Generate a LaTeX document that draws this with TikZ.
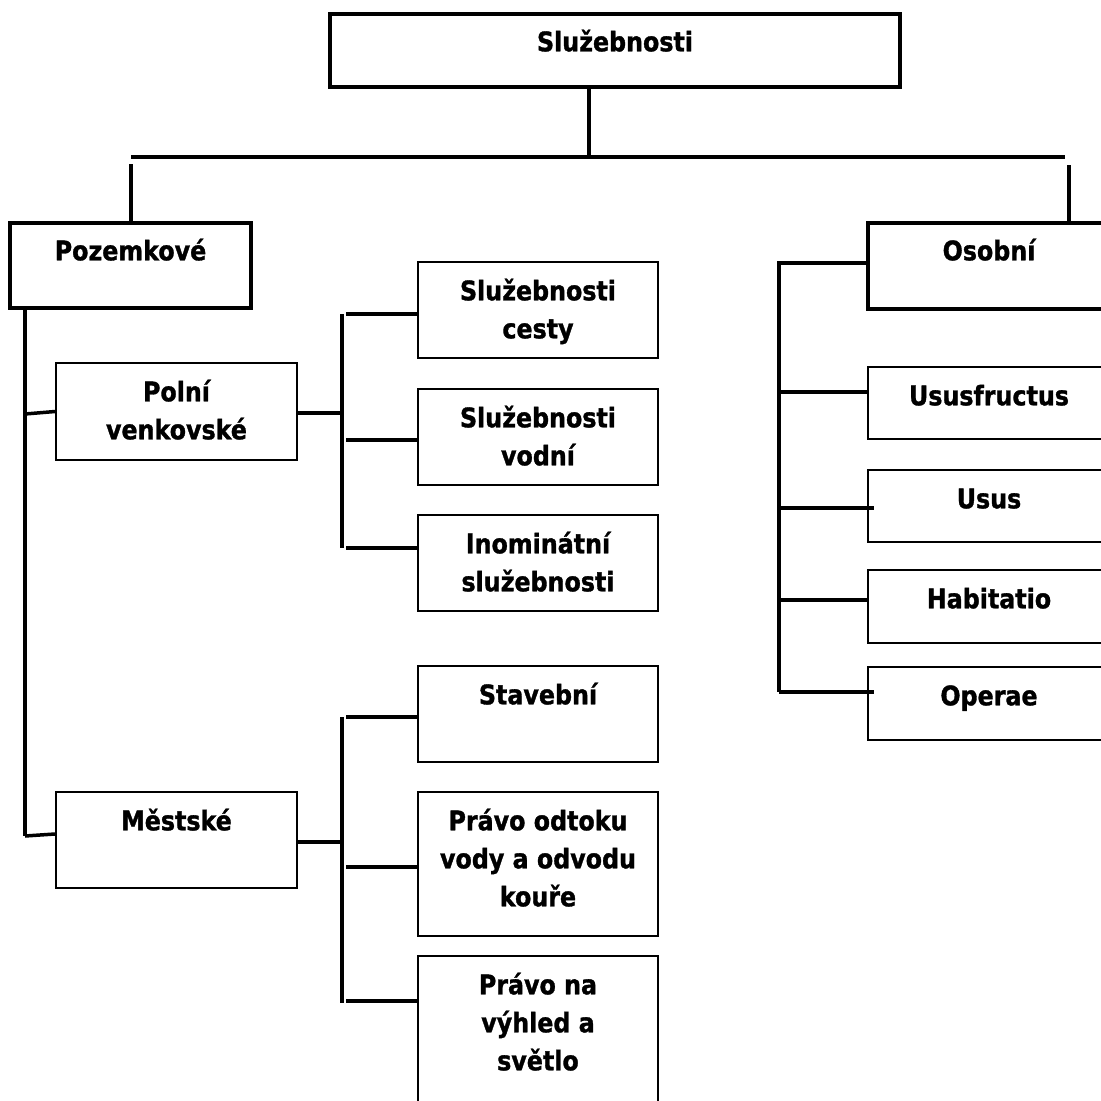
\documentclass[tikz,border=0pt]{standalone}
\usepackage{fontspec}
\setmainfont{DejaVu Sans}[BoldFeatures={FakeStretch=0.88,FakeBold=1.2}]
\usetikzlibrary{calc}
\begin{document}
\begin{tikzpicture}[x=1pt,y=-1pt,
  bigbox/.style={draw,line width=4pt,inner sep=0pt},
  smallbox/.style={draw,line width=2pt,inner sep=0pt},
  conn/.style={line width=3.5pt},
  lbl/.style={font=\bfseries\fontsize{27}{38}\selectfont,align=center,anchor=north,inner sep=0pt}]
\useasboundingbox[fill=white] (0,0) rectangle (1101,1101);

% boxes
\node[bigbox,minimum width=570pt,minimum height=73pt] (top) at (615,50.5) {};
\node[bigbox,minimum width=241pt,minimum height=85pt] (poz) at (130.5,265.5) {};
\node[bigbox,minimum width=242pt,minimum height=86pt] (oso) at (989,266) {};
\node[smallbox,minimum width=241pt,minimum height=97pt] (pol) at (176.5,411.5) {};
\node[smallbox,minimum width=241pt,minimum height=96pt] (mes) at (176.5,840) {};
\node[smallbox,minimum width=240pt,minimum height=96pt] (ces) at (538,310) {};
\node[smallbox,minimum width=240pt,minimum height=96pt] (vod) at (538,437) {};
\node[smallbox,minimum width=240pt,minimum height=96pt] (ino) at (538,563) {};
\node[smallbox,minimum width=240pt,minimum height=96pt] (sta) at (538,714) {};
\node[smallbox,minimum width=240pt,minimum height=144pt] (odt) at (538,864) {};
\node[smallbox,minimum width=240pt,minimum height=154pt] (vyh) at (538,1033) {};
\node[smallbox,minimum width=242pt,minimum height=72pt] (usf) at (989,403) {};
\node[smallbox,minimum width=242pt,minimum height=72pt] (usu) at (989,506) {};
\node[smallbox,minimum width=242pt,minimum height=73pt] (hab) at (989,606.5) {};
\node[smallbox,minimum width=242pt,minimum height=73pt] (ope) at (989,703.5) {};

% labels
\tikzset{tshift/.style={yshift=-12.5pt}}
\node[lbl] (topT) at ([tshift]top.north) {\strut Služebnosti};
\node[lbl] (pozT) at ([tshift]poz.north) {\strut Pozemkové};
\node[lbl] (osoT) at ([tshift]oso.north) {\strut Osobní};
\node[lbl] (polT) at ([tshift]pol.north) {\strut Polní\\venkovské};
\node[lbl] (mesT) at ([tshift]mes.north) {\strut Městské};
\node[lbl] (cesT) at ([tshift]ces.north) {\strut Služebnosti\\cesty};
\node[lbl] (vodT) at ([tshift]vod.north) {\strut Služebnosti\\vodní};
\node[lbl] (inoT) at ([tshift]ino.north) {\strut Inominátní\\služebnosti};
\node[lbl] (staT) at ([tshift]sta.north) {\strut Stavební};
\node[lbl] (odtT) at ([tshift]odt.north) {\strut Právo odtoku\\vody a odvodu\\kouře};
\node[lbl] (vyhT) at ([tshift]vyh.north) {\strut Právo na\\výhled a\\světlo};
\node[lbl] (usfT) at ([tshift]usf.north) {\strut Ususfructus};
\node[lbl] (usuT) at ([tshift]usu.north) {\strut Usus};
\node[lbl] (habT) at ([tshift]hab.north) {\strut Habitatio};
\node[lbl] (opeT) at ([tshift]ope.north) {\strut Operae};

% junction coordinates
\coordinate (hm) at (589,157);
\coordinate (hl) at (131,157);
\coordinate (hr) at (1065,157);
\coordinate (ld) at (131,164);
\coordinate (rd) at (1069,165);
\coordinate (pt) at (25,308);
\coordinate (pa) at (25,414);
\coordinate (pb) at (25,836);
\coordinate (va) at (343,413);
\coordinate (vat) at (342,314);
\coordinate (vab) at (342,548);
\coordinate (a1) at (346,314);
\coordinate (a2) at (346,440);
\coordinate (a3) at (346,548);
\coordinate (vb) at (343,842);
\coordinate (vbt) at (342,717);
\coordinate (vbb) at (342,1003);
\coordinate (b1) at (346,717);
\coordinate (b2) at (346,867);
\coordinate (b3) at (346,1001);
\coordinate (o0) at (779,263);
\coordinate (o1) at (779,392);
\coordinate (o2) at (779,508);
\coordinate (o3) at (779,600);
\coordinate (o4) at (779,692);

% connectors
\draw[conn] (hm |- top.south) -- (hm);
\draw[conn] (hl) -- (hr);
\draw[conn] (ld) -- (ld |- poz.north);
\draw[conn] (rd) -- (rd |- oso.north);
\draw[conn] (pt) -- (pb);
\draw[conn] (pa) -- (pol.west);
\draw[conn] (pb) -- ([yshift=6pt]mes.west);
\draw[conn] (pol.east |- va) -- (va);
\draw[conn] (vat) -- (vab);
\draw[conn] (a1) -- (a1 -| ces.west);
\draw[conn] (a2) -- (a2 -| vod.west);
\draw[conn] (a3) -- (a3 -| ino.west);
\draw[conn] (mes.east |- vb) -- (vb);
\draw[conn] (vbt) -- (vbb);
\draw[conn] (b1) -- (b1 -| sta.west);
\draw[conn] (b2) -- (b2 -| odt.west);
\draw[conn] (b3) -- (b3 -| vyh.west);
\draw[conn] (o0 -| oso.west) -- (o0) -- (o4);
\draw[conn] (o1) -- (o1 -| usf.west);
\draw[conn] (o2) -- ([xshift=7pt]o2 -| usu.west);
\draw[conn] (o3) -- (o3 -| hab.west);
\draw[conn] (o4) -- ([xshift=7pt]o4 -| ope.west);
\end{tikzpicture}
\end{document}
